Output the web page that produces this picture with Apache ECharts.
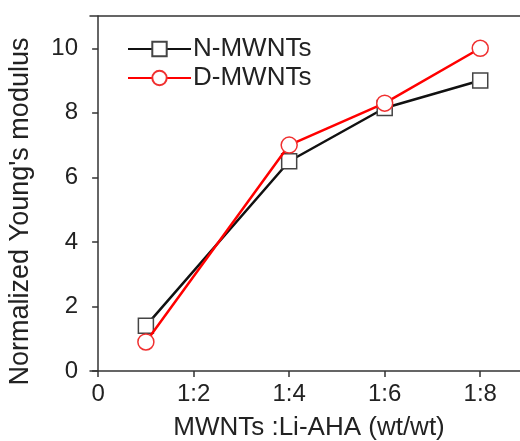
<!DOCTYPE html>
<html>
<head>
<meta charset="utf-8">
<script src="https://cdn.jsdelivr.net/npm/echarts@6/dist/echarts.min.js"></script>
<style>
  html, body { margin: 0; padding: 0; background: #fff; }
  #chart { width: 520px; height: 441px; }
</style>
</head>
<body>
<div id="chart"></div>
<script>
// ratio 1:n, plotted at n
const ratios = [1, 4, 6, 8];
const nMwnts = [1.4, 6.5, 8.15, 9.0];
const dMwnts = [0.9, 7.0, 8.3, 10.0];
const xTicks = [0, 2, 4, 6, 8];
const yTicks = [0, 2, 4, 6, 8, 10];

const font = 'Liberation Sans, Arial, sans-serif';
const fs = 24;
const axisColor = '#333';
const chart = echarts.init(document.getElementById('chart'));

chart.setOption({
  animation: false,
  grid: {
    left: 90,
    top: 16,
    width: 438,
    height: 355,
    outerBoundsMode: 'none'
  },
  legend: {
    left: 122,
    top: 31,
    orient: 'vertical',
    itemWidth: 63,
    itemHeight: 18,
    itemGap: 3,
    textStyle: { fontFamily: font, fontSize: 26, color: '#222', padding: [0, 0, 0, -3] },
    data: ['N-MWNTs', 'D-MWNTs']
  },
  xAxis: [
    {
      type: 'value',
      min: -0.17,
      max: 9,
      name: 'MWNTs :Li-AHA (wt/wt)',
      nameLocation: 'middle',
      nameGap: 44,
      nameTextStyle: { fontFamily: font, fontSize: 26, color: '#222' },
      splitLine: { show: false },
      axisLine: { lineStyle: { color: axisColor, width: 1.5 } },
      axisTick: { customValues: xTicks, length: 6, lineStyle: { color: axisColor, width: 1.5 } },
      axisLabel: {
        customValues: xTicks,
        margin: 11,
        fontFamily: font,
        fontSize: fs,
        color: '#222',
        formatter: v => (v === 0 ? '0' : '1:' + v)
      }
    },
    {
      // top frame line only
      type: 'value',
      position: 'top',
      min: -0.17,
      max: 9,
      splitLine: { show: false },
      axisLine: { show: true, lineStyle: { color: axisColor, width: 1.5 } },
      axisTick: { show: false },
      axisLabel: { show: false }
    }
  ],
  yAxis: {
    type: 'value',
    min: 0,
    max: 11,
    name: "Normalized Young's modulus",
    nameLocation: 'middle',
    nameGap: 56,
    nameTextStyle: { fontFamily: font, fontSize: 27, color: '#222', padding: [0, 36, 0, 0] },
    splitLine: { show: false },
    axisLine: { show: true, lineStyle: { color: axisColor, width: 1.5 } },
    axisTick: { show: true, customValues: yTicks, length: 6, lineStyle: { color: axisColor, width: 1.5 } },
    axisLabel: {
      customValues: yTicks,
      margin: 12,
      fontFamily: font,
      fontSize: fs,
      color: '#222'
    }
  },
  series: [
    {
      name: 'N-MWNTs',
      type: 'line',
      data: ratios.map((r, i) => [r, nMwnts[i]]),
      symbol: 'rect',
      symbolSize: 15,
      lineStyle: { color: '#111', width: 2.5 },
      itemStyle: { color: '#fff', borderColor: '#444', borderWidth: 1.5 },
      z: 2
    },
    {
      name: 'D-MWNTs',
      type: 'line',
      data: ratios.map((r, i) => [r, dMwnts[i]]),
      symbol: 'circle',
      symbolSize: 16,
      lineStyle: { color: '#ff0000', width: 2.5 },
      itemStyle: { color: '#fff', borderColor: '#f03030', borderWidth: 1.5 },
      z: 3
    }
  ]
});
</script>
</body>
</html>
